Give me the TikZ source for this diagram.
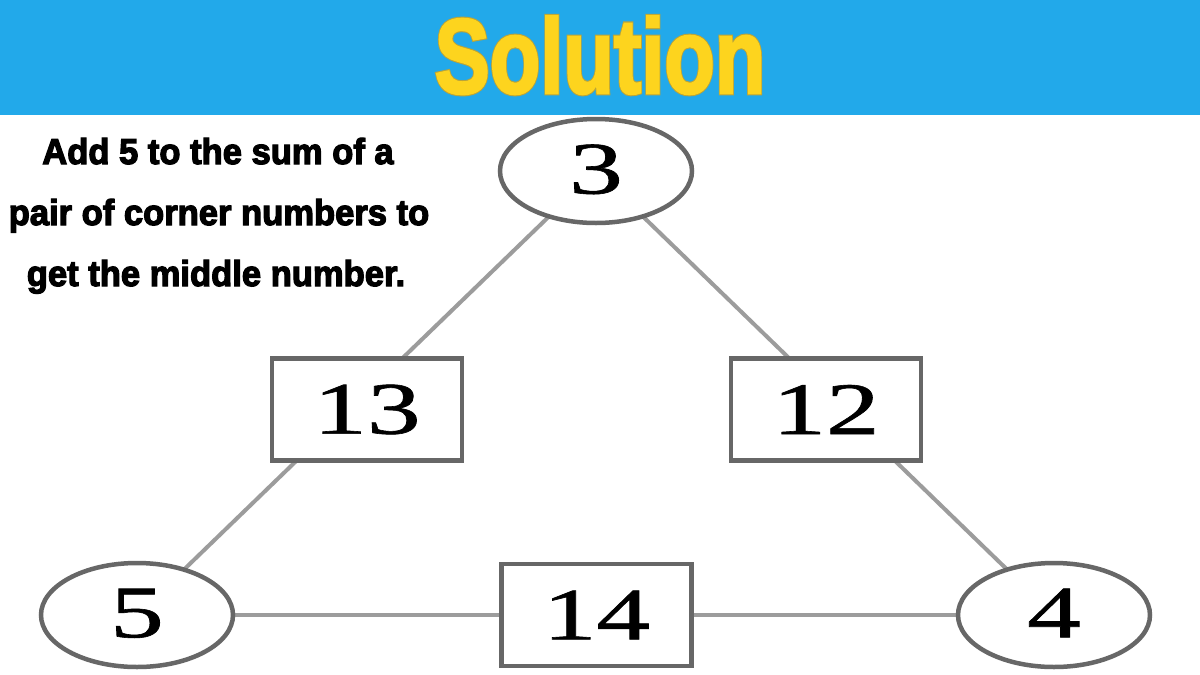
\documentclass[tikz,border=0pt]{standalone}
\usepackage{fontspec}
\usetikzlibrary{shapes.geometric}
\newfontfamily\heavyfont[FakeBold=2.5]{Liberation Sans Bold}
\newfontfamily\hintfont[FakeBold=3.5]{Liberation Sans Bold}
\newfontfamily\heavyoutline[FakeBold=4.5]{Liberation Sans Bold}
\newfontfamily\digitfont[FakeBold=0.8]{Liberation Serif}
\definecolor{banner}{HTML}{22A9EA}
\definecolor{titleyellow}{HTML}{FDD41E}
\definecolor{titleedge}{HTML}{B9A43A}
\definecolor{shapeedge}{HTML}{676767}
\definecolor{linkgray}{HTML}{9C9C9C}
\tikzset{
  corner/.style={ellipse, draw=shapeedge, line width=4.5pt, fill=white, inner sep=0pt,
    minimum width=192pt, minimum height=104pt,
    font=\digitfont\fontsize{74}{74}\selectfont},
  middle/.style={rectangle, draw=shapeedge, line width=4.5pt, fill=white, inner sep=0pt,
    minimum width=190pt, minimum height=102pt,
    font=\digitfont\fontsize{74}{74}\selectfont},
  link/.style={draw=linkgray, line width=4pt},
  hint/.style={anchor=base, inner sep=0pt, font=\hintfont\fontsize{36}{36}\selectfont},
}
\newcommand{\wide}[1]{\scalebox{1.45}[1]{#1}}
\begin{document}
\begin{tikzpicture}[x=1pt,y=-1pt]
\useasboundingbox (0,0) rectangle (1200,675);
\fill[white] (0,0) rectangle (1200,675);
\fill[banner] (0,0) rectangle (1200,115);
% title
\node[anchor=base, inner sep=0pt, text=titleedge, font=\heavyoutline\fontsize{106}{106}\selectfont] (titleb) at (600,93) {\scalebox{0.78}[1]{Solution}};
\node[anchor=base, inner sep=0pt, text=titleyellow, font=\heavyfont\fontsize{106}{106}\selectfont] (title) at (600,93) {\scalebox{0.78}[1]{Solution}};
% hint text
\node[hint] (t1) at (218,164) {\scalebox{0.96}[1]{Add 5 to the sum of a}};
\node[hint] (t2) at (219,225) {\scalebox{0.96}[1]{pair of corner numbers to}};
\node[hint] (t3) at (216,286) {\scalebox{0.96}[1]{get the middle number.}};
% nodes
\coordinate (c3) at (596,171);
\coordinate (c5) at (137,615);
\coordinate (c4) at (1054,615);
\draw[link] (c3) -- (c5);
\draw[link] (c3) -- (c4);
\draw[link] (c5) -- (c4);
\node[corner] (n3) at (c3) {\raisebox{4pt}{\wide{3}}};
\node[corner] (n5) at (c5) {\raisebox{4pt}{\wide{5}}};
\node[corner] (n4) at (c4) {\raisebox{4pt}{\wide{4}}};
\node[middle] (m13) at (367,409.5) {\wide{13}};
\node[middle] (m12) at (826,409.5) {\wide{12}};
\node[middle] (m14) at (596.5,615) {\wide{14}};
\end{tikzpicture}
\end{document}
